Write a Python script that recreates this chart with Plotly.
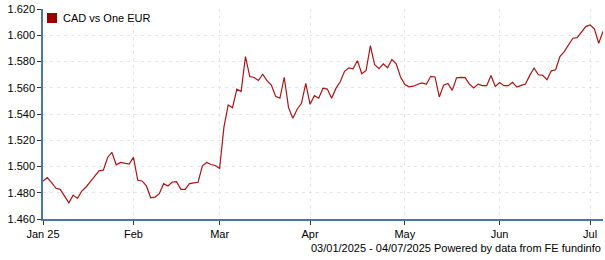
import pandas as pd
import plotly.graph_objects as go

series_name = "CAD vs One EUR"
dates = [d.strftime("%Y-%m-%d") for d in pd.bdate_range("2025-01-03", "2025-07-04")]
values = [
    1.4890, 1.4915, 1.4877, 1.4834, 1.4826, 1.4772, 1.4724, 1.4782, 1.4757, 1.4813,
    1.4844, 1.4885, 1.4928, 1.4967, 1.4972, 1.5069, 1.5108, 1.5013, 1.5031, 1.5023,
    1.5018, 1.5070, 1.4895, 1.4890, 1.4852, 1.4762, 1.4767, 1.4793, 1.4869, 1.4852,
    1.4882, 1.4885, 1.4826, 1.4826, 1.4870, 1.4875, 1.4880, 1.5005, 1.5031, 1.5015,
    1.5008, 1.4985, 1.5300, 1.5469, 1.5448, 1.5589, 1.5571, 1.5838, 1.5685, 1.5678,
    1.5655, 1.5703, 1.5654, 1.5621, 1.5535, 1.5520, 1.5680, 1.5448, 1.5367, 1.5436,
    1.5481, 1.5634, 1.5474, 1.5540, 1.5520, 1.5596, 1.5590, 1.5520, 1.5595, 1.5645,
    1.5725, 1.5752, 1.5745, 1.5807, 1.5707, 1.5732, 1.5920, 1.5775, 1.5745, 1.5782,
    1.5752, 1.5815, 1.5782, 1.5682, 1.5625, 1.5607, 1.5612, 1.5627, 1.5637, 1.5627,
    1.5687, 1.5682, 1.5530, 1.5620, 1.5632, 1.5580, 1.5675, 1.5679, 1.5677, 1.5628,
    1.5598, 1.5628, 1.5616, 1.5616, 1.5694, 1.5610, 1.5640, 1.5616, 1.5616, 1.5641,
    1.5605, 1.5618, 1.5628, 1.5694, 1.5750, 1.5699, 1.5694, 1.5661, 1.5729, 1.5737,
    1.5838, 1.5875, 1.5925, 1.5977, 1.5982, 1.6028, 1.6066, 1.6079, 1.6048, 1.5939,
    1.6028,
]
tick_dates = ["2025-01-03", "2025-02-03", "2025-03-03", "2025-04-01", "2025-05-01", "2025-06-02", "2025-07-01"]
tick_labels = ["Jan 25", "Feb", "Mar", "Apr", "May", "Jun", "Jul"]
y_ticks = [1.46, 1.48, 1.50, 1.52, 1.54, 1.56, 1.58, 1.60, 1.62]
footer = "03/01/2025 - 04/07/2025 Powered by data from FE fundinfo"

LINE = "#ad1414"
AXIS = "#4a76a8"
GRID = "#e6e6e6"
FONT = "Liberation Sans"

fig = go.Figure()
fig.add_trace(go.Scatter(x=dates, y=values, mode="lines", name=series_name,
                         line=dict(color=LINE, width=1.2), showlegend=False))

fig.update_layout(
    width=605, height=260,
    margin=dict(l=43, r=2, t=9, b=41),
    paper_bgcolor="white", plot_bgcolor="white",
    font=dict(family=FONT, size=11, color="#000000"),
    xaxis=dict(type="category", range=[0, len(dates) - 1],
               tickmode="array", tickvals=tick_dates, ticktext=tick_labels,
               showgrid=True, gridcolor=GRID, griddash="3px,4px", gridwidth=1,
               showline=True, linecolor=AXIS, linewidth=1.5,
               ticks="outside", ticklen=4, tickcolor="#333333", tickwidth=1,
               zeroline=False, tickfont=dict(size=11)),
    yaxis=dict(range=[1.46, 1.62], tickmode="array", tickvals=y_ticks,
               tickformat=".3f",
               showgrid=True, gridcolor=GRID, griddash="3px,4px", gridwidth=1,
               showline=True, linecolor=AXIS, linewidth=1.5,
               ticks="outside", ticklen=4, tickcolor="#333333", tickwidth=1,
               zeroline=False, tickfont=dict(size=11)),
    shapes=[dict(type="rect", xref="paper", yref="paper",
                 x0=4 / 560, x1=14 / 560, y0=1 - 14 / 210, y1=1 - 4 / 210,
                 fillcolor="#9e0000", line=dict(width=0))],
    annotations=[
        dict(text=series_name, xref="paper", yref="paper", x=18 / 560, y=1 - 9 / 210,
             xanchor="left", yanchor="middle", showarrow=False, font=dict(size=11)),
        dict(text=footer, xref="paper", yref="paper", x=1, y=-29 / 210,
             xanchor="right", yanchor="middle", showarrow=False, font=dict(size=11)),
    ],
)
fig.write_html("out.html")
